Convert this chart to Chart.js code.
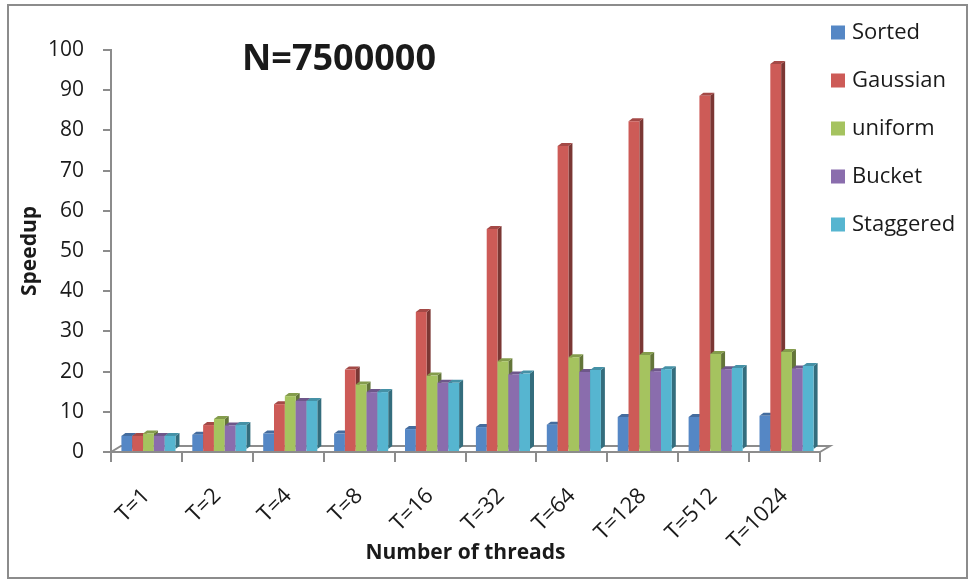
<!DOCTYPE html>
<html>
<head>
<meta charset="utf-8">
<script src="https://cdn.jsdelivr.net/npm/chart.js@4.4.1/dist/chart.umd.min.js"></script>
<style>
  html, body { margin: 0; padding: 0; background: #fff; }
  canvas { display: block; }
</style>
</head>
<body>
<canvas id="myChart" width="972" height="581"></canvas>
<script>
// data
const threadLabels = ['T=1', 'T=2', 'T=4', 'T=8', 'T=16', 'T=32', 'T=64', 'T=128', 'T=512', 'T=1024'];
const sortedData    = [4.0, 4.3, 4.6, 4.6, 5.7, 6.2, 6.8, 8.7, 8.7, 9.0];
const gaussianData  = [4.0, 6.7, 11.9, 20.5, 34.8, 55.5, 76.1, 82.3, 88.6, 96.5];
const uniformData   = [4.6, 8.2, 13.9, 16.8, 19.0, 22.6, 23.6, 24.1, 24.4, 24.9];
const bucketData    = [4.0, 6.6, 12.7, 14.9, 17.2, 19.3, 19.9, 20.1, 20.6, 20.8];
const staggeredData = [4.0, 6.7, 12.7, 14.9, 17.2, 19.5, 20.4, 20.6, 20.9, 21.4];
const seriesNames = ['Sorted', 'Gaussian', 'uniform', 'Bucket', 'Staggered'];
const seriesColors = ['#5587c5', '#cd5b57', '#a5c35f', '#8a6dad', '#56b5d0'];
const yTickValues = [0, 10, 20, 30, 40, 50, 60, 70, 80, 90, 100];

const seriesData = [sortedData, gaussianData, uniformData, bucketData, staggeredData];
const axisGray = '#8c8c8c';
const textColor = '#1a1a1a';

// darken a hex colour
function shade(hex, f) {
  const n = parseInt(hex.slice(1), 16);
  const r = Math.round(((n >> 16) & 255) * f);
  const g = Math.round(((n >> 8) & 255) * f);
  const b = Math.round((n & 255) * f);
  return 'rgb(' + r + ',' + g + ',' + b + ')';
}

// fake excel 3d look: floor, side and top faces
const depthBars = {
  id: 'depthBars',
  beforeDatasetsDraw(chart) {
    const ctx = chart.ctx;
    const area = chart.chartArea;
    const dx = 4, dy = 3;

    ctx.save();
    ctx.strokeStyle = axisGray;
    ctx.lineWidth = 2;
    ctx.beginPath();
    ctx.moveTo(area.left, area.bottom);
    ctx.lineTo(area.left + 10, area.bottom - 6);
    ctx.lineTo(area.right + 10, area.bottom - 6);
    ctx.lineTo(area.right, area.bottom);
    ctx.stroke();

    // perspective pushes the clusters a little to the right
    ctx.save();
    ctx.translate(2, 0);
    const metas = chart.getSortedVisibleDatasetMetas().slice().sort((a, b) => a.index - b.index);
    for (let j = 0; j < chart.data.labels.length; j++) {
      metas.forEach(meta => {
        const bar = meta.data[j];
        const color = chart.data.datasets[meta.index].backgroundColor;
        const left = bar.x - bar.width / 2;
        const right = bar.x + bar.width / 2;
        const top = bar.y;
        const base = bar.base - 2;

        ctx.fillStyle = shade(color, 0.6);
        ctx.beginPath();
        ctx.moveTo(right, top);
        ctx.lineTo(right + dx, top - dy);
        ctx.lineTo(right + dx, base - dy);
        ctx.lineTo(right, base);
        ctx.closePath();
        ctx.fill();

        ctx.fillStyle = shade(color, 0.8);
        ctx.beginPath();
        ctx.moveTo(left, top);
        ctx.lineTo(left + dx, top - dy);
        ctx.lineTo(right + dx, top - dy);
        ctx.lineTo(right, top);
        ctx.closePath();
        ctx.fill();

        bar.draw(ctx);
      });
    }
    ctx.restore();

    // front edge of the floor sits over the bar feet
    ctx.beginPath();
    ctx.moveTo(area.left, area.bottom);
    ctx.lineTo(area.right, area.bottom);
    ctx.stroke();
    ctx.restore();
    return false;
  }
};

// frame, title and legend
const decorations = {
  id: 'decorations',
  afterDraw(chart) {
    const ctx = chart.ctx;
    ctx.save();
    ctx.strokeStyle = axisGray;
    ctx.lineWidth = 2;
    ctx.strokeRect(8, 5, 959, 573);

    ctx.fillStyle = textColor;
    ctx.font = 'bold 36px "Open Sans"';
    ctx.textAlign = 'center';
    ctx.textBaseline = 'middle';
    ctx.fillText('N=7500000', 339, 60);

    ctx.font = '22px "Open Sans"';
    ctx.textAlign = 'left';
    chart.data.datasets.forEach((ds, i) => {
      const yc = 32.5 + 48 * i;
      ctx.fillStyle = ds.backgroundColor;
      ctx.fillRect(831, yc - 7, 14, 14);
      ctx.fillStyle = textColor;
      ctx.fillText(ds.label, 852, yc);
    });
    ctx.restore();
  }
};

const ctx = document.getElementById('myChart');

new Chart(ctx, {
  type: 'bar',
  data: {
    labels: threadLabels,
    datasets: seriesNames.map((name, i) => ({
      label: name,
      data: seriesData[i],
      backgroundColor: seriesColors[i],
      borderWidth: 0
    }))
  },
  options: {
    responsive: false,
    animation: false,
    devicePixelRatio: 1,
    categoryPercentage: 0.763,
    barPercentage: 1,
    layout: {
      padding: { left: 0, right: 152, top: 50, bottom: 0 }
    },
    plugins: {
      legend: { display: false },
      tooltip: { enabled: false }
    },
    scales: {
      y: {
        min: 0,
        max: 100,
        afterFit: scale => { scale.width = 111; },
        afterBuildTicks: scale => { scale.ticks = yTickValues.map(v => ({ value: v })); },
        ticks: {
          padding: 19,
          color: textColor,
          font: { family: 'Open Sans', size: 21 }
        },
        grid: {
          drawOnChartArea: false,
          drawTicks: true,
          tickLength: 8,
          color: axisGray,
          lineWidth: 2
        },
        border: { color: axisGray, width: 2 },
        title: {
          display: true,
          text: 'Speedup',
          color: textColor,
          padding: { top: 17, bottom: 0 },
          font: { family: 'Open Sans', size: 21, weight: 'bold' }
        }
      },
      x: {
        afterFit: scale => { scale.height = 129; },
        ticks: {
          minRotation: 45,
          maxRotation: 45,
          padding: 21,
          color: textColor,
          font: { family: 'Open Sans', size: 22 }
        },
        grid: {
          drawOnChartArea: false,
          drawTicks: true,
          tickLength: 10,
          color: axisGray,
          lineWidth: 2
        },
        border: { color: axisGray, width: 2 },
        title: {
          display: true,
          text: 'Number of threads',
          color: textColor,
          padding: { top: 0, bottom: 15 },
          font: { family: 'Open Sans', size: 21, weight: 'bold' }
        }
      }
    }
  },
  plugins: [depthBars, decorations]
});
</script>
</body>
</html>
